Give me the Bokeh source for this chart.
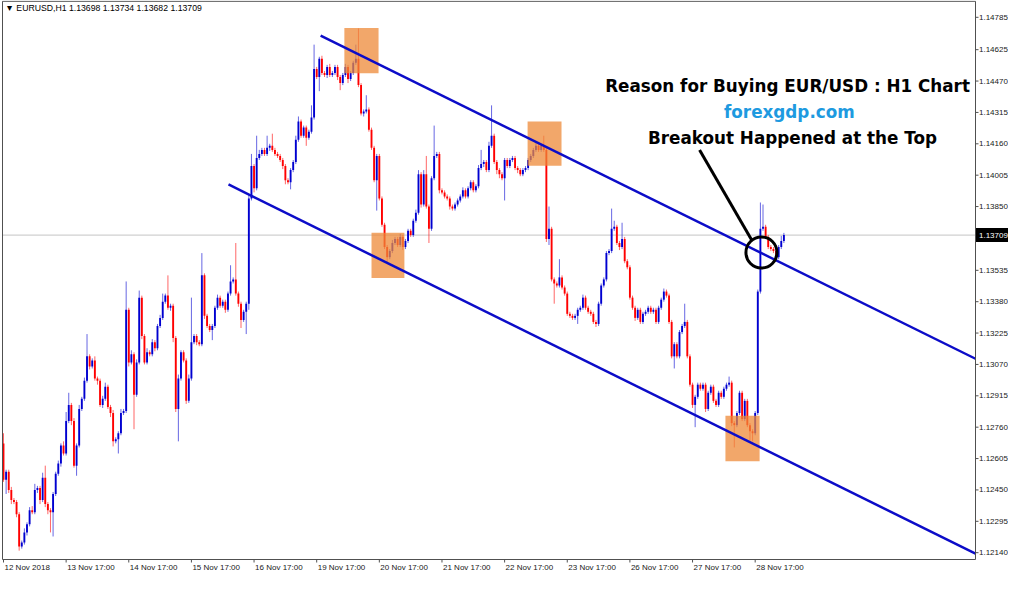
from bokeh.plotting import figure
from bokeh.models import Range1d, ColumnDataSource
from bokeh.embed import file_html
from bokeh.resources import INLINE
from bokeh.core.properties import value

# ---------------- data (EURUSD H1) ----------------
first_open = 1.1268
closes = [
    1.1250, 1.1254, 1.1245, 1.1240, 1.1239, 1.1233, 1.1217, 1.1219, 1.1224, 1.1228,
    1.1235, 1.1234, 1.1245, 1.1246, 1.1240, 1.1251, 1.1238, 1.1235, 1.1234, 1.1243,
    1.1253, 1.1258, 1.1267, 1.1263, 1.1279, 1.1287, 1.1279, 1.1257, 1.1267, 1.1285,
    1.1290, 1.1299, 1.1311, 1.1306, 1.1309, 1.1300, 1.1299, 1.1287, 1.1290, 1.1296,
    1.1286, 1.1283, 1.1269, 1.1270, 1.1273, 1.1283, 1.1284, 1.1334, 1.1308, 1.1312,
    1.1292, 1.1308, 1.1340, 1.1321, 1.1308, 1.1313, 1.1312, 1.1318, 1.1315, 1.1326,
    1.1330, 1.1338, 1.1341, 1.1335, 1.1336, 1.1320, 1.1285, 1.1300, 1.1313, 1.1309,
    1.1289, 1.1300, 1.1318, 1.1321, 1.1318, 1.1317, 1.1351, 1.1331, 1.1326, 1.1324,
    1.1326, 1.1335, 1.1340, 1.1336, 1.1338, 1.1334, 1.1342, 1.1348, 1.1349, 1.1342,
    1.1337, 1.1329, 1.1333, 1.1337, 1.1389, 1.1405, 1.1394, 1.1409, 1.1411, 1.1413,
    1.1411, 1.1414, 1.1415, 1.1413, 1.1411, 1.1410, 1.1408, 1.1405, 1.1398, 1.1397,
    1.1403, 1.1407, 1.1418, 1.1427, 1.1420, 1.1424, 1.1419, 1.1422, 1.1429, 1.1453,
    1.1449, 1.1458, 1.1451, 1.1450, 1.1454, 1.1450, 1.1451, 1.1454, 1.1449, 1.1446,
    1.1450, 1.1454, 1.1448, 1.1451, 1.1456, 1.1458, 1.1445, 1.1431, 1.1432, 1.1433,
    1.1423, 1.1414, 1.1398, 1.1410, 1.1389, 1.1376, 1.1365, 1.1360, 1.1363, 1.1367,
    1.1369, 1.1366, 1.1370, 1.1365, 1.1368, 1.1373, 1.1371, 1.1378, 1.1382, 1.1401,
    1.1386, 1.1401, 1.1385, 1.1374, 1.1399, 1.1410, 1.1411, 1.1393, 1.1392, 1.1390,
    1.1389, 1.1385, 1.1384, 1.1386, 1.1388, 1.1390, 1.1393, 1.1390, 1.1394, 1.1397,
    1.1393, 1.1395, 1.1404, 1.1406, 1.1407, 1.1403, 1.1415, 1.1420, 1.1407, 1.1403,
    1.1401, 1.1399, 1.1408, 1.1405, 1.1408, 1.1409, 1.1404, 1.1403, 1.1401, 1.1403,
    1.1404, 1.1408, 1.1410, 1.1413, 1.1415, 1.1413, 1.1415, 1.1413, 1.1369, 1.1374,
    1.1349, 1.1347, 1.1346, 1.1350, 1.1345, 1.1342, 1.1332, 1.1331, 1.1330, 1.1331,
    1.1334, 1.1335, 1.1340, 1.1335, 1.1333, 1.1332, 1.1328, 1.1327, 1.1337, 1.1346,
    1.1349, 1.1362, 1.1363, 1.1374, 1.1375, 1.1367, 1.1365, 1.1369, 1.1358, 1.1355,
    1.1340, 1.1335, 1.1330, 1.1334, 1.1328, 1.1332, 1.1333, 1.1335, 1.1333, 1.1334,
    1.1328, 1.1335, 1.1339, 1.1343, 1.1341, 1.1328, 1.1311, 1.1317, 1.1311, 1.1323,
    1.1326, 1.1328, 1.1311, 1.1297, 1.1287, 1.1291, 1.1297, 1.1295, 1.1297, 1.1285,
    1.1293, 1.1296, 1.1289, 1.1287, 1.1293, 1.1291, 1.1295, 1.1297, 1.1298, 1.1278,
    1.1277, 1.1283, 1.1293, 1.1280, 1.1289, 1.1277, 1.1274, 1.1273, 1.1283, 1.1343,
    1.1374, 1.1375, 1.1370, 1.1365, 1.1364, 1.1363, 1.1360, 1.1365, 1.1368, 1.1371,
]
# wick lengths in pips (high above body top, low below body bottom)
upper_wick_pips = [
    5, 1, 1, 1.5, 1, 1, 1, 1, 2, 1,
    1.5, 2, 3, 1, 1, 2.5, 6, 1, 1, 1,
    1, 1.5, 1, 2, 4.5, 6, 1, 1.5, 1, 2,
    1, 1.5, 11, 1, 1, 2, 1, 1, 1.5, 2,
    1, 1, 1.5, 1, 1, 2, 1, 14, 1, 2,
    1, 1.5, 3.5, 1, 1, 2, 1, 1.5, 1, 1,
    1.5, 4, 1, 10, 1, 1, 1, 2, 1, 1,
    1, 2, 22, 1, 1, 1, 11, 1, 1, 1,
    1, 1, 1.5, 1, 1, 1, 1, 8, 1, 18,
    1, 1, 1, 1, 2, 6, 1, 11, 2, 1,
    1, 6, 1, 6, 1, 1, 1, 1, 1, 1,
    1, 1, 2, 2.5, 1, 1, 1, 1, 6, 12,
    1, 1, 1.5, 1, 1, 1.5, 1, 1, 1, 1,
    1, 1.5, 1, 1, 1, 7, 15, 1, 1, 7,
    1, 1, 1, 1, 1, 1, 1, 1, 1, 1.5,
    1, 1, 1.5, 1, 1, 1, 1, 1, 1.5, 2,
    1, 2, 9, 1, 1, 15, 1, 1, 1, 1,
    1, 1, 1, 1, 1, 1, 1.5, 1, 1, 1,
    1, 1, 1.5, 7, 1, 1, 2, 15, 1, 1,
    1, 1, 1, 1, 1, 1, 1, 1, 1, 1,
    1, 1, 1, 1, 1.5, 1, 1, 5, 1, 11,
    1, 1, 1, 9, 1, 1, 1, 1, 1, 1,
    1, 1, 1.5, 1, 1, 1, 1, 1, 1, 1,
    1, 1, 1, 10, 3, 1, 1, 8, 1, 1,
    1, 1, 1, 1, 1, 1, 1, 1, 1, 1,
    1, 1, 1, 1.5, 1, 1, 1, 1, 1, 1,
    1, 9, 1, 1, 1, 1, 1, 1, 1, 1,
    1, 1, 1, 1, 1, 1, 1, 1, 3, 1,
    1, 1, 1, 1, 1, 1, 1, 1, 1, 1,
    13, 11, 1, 1, 1, 1, 1, 1, 2.5, 1,
]
lower_wick_pips = [
    1, 7, 1.5, 2, 1, 1.5, 2, 1, 1, 1.5,
    1, 1, 1, 1.5, 2, 1, 1.5, 2, 10, 12,
    1, 1, 1.5, 1, 1, 1, 2, 1, 5, 1,
    1, 1, 1, 1.5, 1, 1, 2, 1, 1.5, 1,
    1, 2, 2.5, 1, 7, 1, 1, 1, 2, 1,
    17, 1, 1, 1.5, 1, 1, 1, 1, 1.5, 1,
    1, 1, 1, 1, 1.5, 2, 1.5, 16, 1, 1,
    1.5, 1, 1, 1, 1.5, 1, 1, 1.5, 1, 1,
    5, 1, 1, 1, 1, 1.5, 1, 1, 1, 1,
    1.5, 4, 1, 11, 3, 1, 2, 1, 1, 1,
    1, 1, 1.5, 1, 1, 1, 1, 1.5, 2, 1,
    3.5, 1, 1, 1, 1, 1, 4, 1, 1, 1,
    1, 7, 1, 1, 1.5, 1, 1, 1, 1.5, 3.5,
    1, 1, 2, 1, 1, 1, 1, 1, 1.5, 1,
    1, 1, 1, 15, 1, 1, 1, 2.5, 1, 1,
    1, 1, 1, 1.5, 1, 1, 1, 1, 1, 1,
    1.5, 1, 1, 7, 1, 1, 1, 1.5, 1, 1,
    1, 1.5, 1, 1, 1, 1, 1, 1, 1, 1,
    1, 1, 1, 1, 1.5, 1, 1, 1, 1, 2,
    2, 1, 11, 1, 1, 1, 1, 1.5, 1, 1,
    1, 1, 1, 1, 1, 1, 1, 1, 1.5, 3,
    1, 10, 1, 1, 1, 1, 1, 1, 1, 1,
    4, 1, 1, 1, 1, 1, 1, 1.5, 1, 1,
    1, 1, 1, 1, 1, 1, 1.5, 1, 1, 1,
    1, 1, 1.5, 1, 1, 1, 1, 1, 1, 1,
    1, 1, 1, 1, 1, 1, 1, 6, 1, 1,
    1, 1, 1, 1, 1.5, 11, 1, 1, 1, 1.5,
    1, 1, 1, 1, 1, 1, 1, 1, 1, 1.5,
    11, 1, 1, 1, 1, 1, 5, 4, 1, 1,
    1, 1, 1, 1, 1, 1, 1.5, 1, 1, 1,
]
date_tick_bars = [0, 24, 48, 72, 96, 120, 144, 168, 192, 216, 240, 264, 288]
date_tick_labels = ["12 Nov 2018", "13 Nov 17:00", "14 Nov 17:00", "15 Nov 17:00",
                    "16 Nov 17:00", "19 Nov 17:00", "20 Nov 17:00", "21 Nov 17:00",
                    "22 Nov 17:00", "23 Nov 17:00", "26 Nov 17:00", "27 Nov 17:00",
                    "28 Nov 17:00"]
price_ticks = [1.14785, 1.14625, 1.14470, 1.14315, 1.14160, 1.14005, 1.13850,
               1.13535, 1.13380, 1.13225, 1.13070, 1.12915, 1.12760, 1.12605,
               1.12450, 1.12295, 1.12140]
current_price = 1.13709
last_bar_ohlc = [1.13698, 1.13734, 1.13682, 1.13709]

# highlighted zones (bar index range, price range)
zone_left = [130.6, 141.0, 200.8, 276.6]
zone_right = [143.7, 153.6, 213.8, 289.7]
zone_top = [1.14732, 1.13720, 1.14270, 1.12816]
zone_bottom = [1.14508, 1.13497, 1.14051, 1.12592]

# channel lines (bar index, price)
upper_x = [121.5, 376.2]
upper_y = [1.14694, 1.13074]
lower_x = [86.2, 376.2]
lower_y = [1.13959, 1.12111]

# breakout marker
pointer_x = [266.7, 286.6]
pointer_y = [1.14129, 1.13686]
circle_x = [290.4]
circle_y = [1.13623]

# ---------------- chart frame geometry (data units) ----------------
BAR_PX = 2.61                        # pixels per bar
PRICE_PX = 20567 * 559 / 568         # pixels per 1.0 of price
X_MIN = -3 / BAR_PX                  # canvas left edge
X_MAX = X_MIN + 1008 / BAR_PX        # canvas right edge
Y_MAX = 1.14868                      # canvas top edge
Y_MIN = Y_MAX - 573 / PRICE_PX       # canvas bottom edge
AXIS_X = X_MIN + 975 / BAR_PX        # price-scale separator (right)
LEFT_X = X_MIN + 2 / BAR_PX          # left border
AXIS_Y = Y_MAX - 559 / PRICE_PX      # time-scale separator (bottom)
TOP_Y = Y_MAX - 0.8 / PRICE_PX       # top border

# ---------------- build ----------------
PIP = 0.0001
n = len(closes)
idx = list(range(n))
opens = [first_open] + closes[:-1]
body_top, body_bot, highs, lows, colors = [], [], [], [], []
for o, c, uw, lw in zip(opens, closes, upper_wick_pips, lower_wick_pips):
    t, b = max(o, c), min(o, c)
    highs.append(t + uw * PIP)
    lows.append(b - lw * PIP)
    if t - b < 0.00003:
        t += 0.000015
        b -= 0.000015
    body_top.append(t)
    body_bot.append(b)
    colors.append("#0000D0" if c >= o else "#FF0000")

src = ColumnDataSource(dict(x=idx, top=body_top, bottom=body_bot, high=highs,
                            low=lows, color=colors))

p = figure(width=1008, height=573, output_backend="svg", toolbar_location=None,
           x_range=Range1d(X_MIN, X_MAX), y_range=Range1d(Y_MIN, Y_MAX),
           x_axis_location=None, y_axis_location=None,
           min_border=0, min_border_left=0, min_border_right=0,
           min_border_top=0, min_border_bottom=0)
p.background_fill_color = "white"
p.border_fill_color = "white"
p.outline_line_color = None
p.xgrid.visible = False
p.ygrid.visible = False

# current price line
p.segment(x0=[LEFT_X], y0=[current_price], x1=[AXIS_X], y1=[current_price],
          line_color="#C4C4C4", line_width=1)

# candles
p.segment(x0="x", y0="low", x1="x", y1="high", source=src, line_color="color",
          line_width=1, line_alpha=0.6)
p.vbar(x="x", width=0.72, top="top", bottom="bottom", source=src,
       fill_color="color", line_color=None)

# zones
p.quad(left=zone_left, right=zone_right, top=zone_top, bottom=zone_bottom,
       fill_color="#EE8A38", fill_alpha=0.75, line_color=None)

# channel (clipped at the price scale)
def clip_line(xs, ys, xmax):
    x0, x1 = xs
    y0, y1 = ys
    if x1 > xmax:
        y1 = y0 + (y1 - y0) * (xmax - x0) / (x1 - x0)
        x1 = xmax
    return [x0, x1], [y0, y1]

ux, uy = clip_line(upper_x, upper_y, AXIS_X)
lx, ly = clip_line(lower_x, lower_y, AXIS_X)
p.line(ux, uy, line_color="#0C0CC8", line_width=2.5)
p.line(lx, ly, line_color="#0C0CC8", line_width=2.5)

# breakout marker
p.line(pointer_x, pointer_y, line_color="black", line_width=3)
p.scatter(circle_x, circle_y, marker="circle", size=31, fill_color=None,
          line_color="black", line_width=3)

# chart borders / scales
p.segment(x0=[LEFT_X, LEFT_X, AXIS_X, LEFT_X], y0=[TOP_Y, TOP_Y, TOP_Y, AXIS_Y],
          x1=[AXIS_X, LEFT_X, AXIS_X, AXIS_X], y1=[TOP_Y, AXIS_Y, AXIS_Y, AXIS_Y],
          line_color="#505050", line_width=1)

# price scale (right)
tick_len_x = 3 / BAR_PX
p.segment(x0=[AXIS_X] * len(price_ticks), y0=price_ticks,
          x1=[AXIS_X + tick_len_x] * len(price_ticks), y1=price_ticks,
          line_color="#505050", line_width=1)
p.text(x=[AXIS_X + 3.5 / BAR_PX] * len(price_ticks), y=price_ticks,
       text=["%.5f" % t for t in price_ticks],
       text_font=value("Liberation Sans"), text_font_size=value("8px"),
       text_color="#202020", text_align="left", text_baseline="middle")

# current price tag
tag_h = 7 / PRICE_PX
p.quad(left=[AXIS_X + 0.5 / BAR_PX], right=[X_MAX], top=[current_price + tag_h],
       bottom=[current_price - tag_h], fill_color="black", line_color=None)
p.text(x=[AXIS_X + 3.5 / BAR_PX], y=[current_price], text=["%.5f" % current_price],
       text_font=value("Liberation Sans"), text_font_size=value("8px"),
       text_color="white", text_align="left", text_baseline="middle")

# time scale (bottom)
tick_len_y = 3 / PRICE_PX
p.segment(x0=date_tick_bars, y0=[AXIS_Y] * len(date_tick_bars),
          x1=date_tick_bars, y1=[AXIS_Y - tick_len_y] * len(date_tick_bars),
          line_color="#505050", line_width=1)
p.text(x=[b + 1 / BAR_PX for b in date_tick_bars],
       y=[AXIS_Y - 3 / PRICE_PX] * len(date_tick_bars), text=date_tick_labels,
       text_font=value("Liberation Sans"), text_font_size=value("8px"),
       text_color="#202020", text_align="left", text_baseline="top")

# header
p.text(x=[0.7], y=[1.14829],
       text=["\u25bc EURUSD,H1  " + " ".join("%.5f" % v for v in last_bar_ohlc)],
       text_font=value("Liberation Sans"), text_font_size=value("8.7px"),
       text_color="black", text_align="left", text_baseline="middle")

# annotation texts
ann_x = [300.4, 301.1, 302.3]
ann_y = [1.14445, 1.14318, 1.14187]
ann_text = ["Reason for Buying EUR/USD : H1 Chart", "forexgdp.com",
            "Breakout Happened at the Top"]
ann_color = ["black", "#1E9AE0", "black"]
p.text(x=ann_x, y=ann_y, text=ann_text, text_color=ann_color,
       text_font=value("DejaVu Sans"), text_font_style="bold",
       text_font_size=value("16.8px"), text_align="center", text_baseline="middle")

open("out.html", "w").write(file_html(p, INLINE))
